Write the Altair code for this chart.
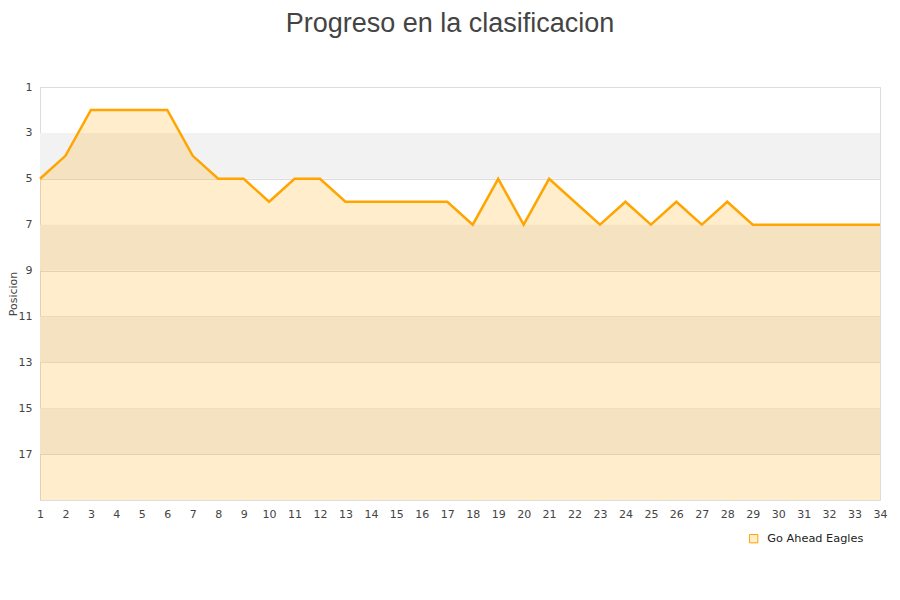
import altair as alt
import pandas as pd

jornadas = list(range(1, 35))
posiciones = [5, 4, 2, 2, 2, 2, 4, 5, 5, 6, 5, 5, 6, 6, 6, 6, 6, 7, 5, 7,
              5, 6, 7, 6, 7, 6, 7, 6, 7, 7, 7, 7, 7, 7]
equipo = "Go Ahead Eagles"
band_start = [3, 7, 11, 15]
band_end = [5, 9, 13, 17]
y_ticks = [1, 3, 5, 7, 9, 11, 13, 15, 17]

df = pd.DataFrame({"jornada": jornadas, "pos": posiciones, "team": [equipo] * len(jornadas)})
bands = pd.DataFrame({"y1": band_start, "y2": band_end})

W, H = 840, 413
xscale = alt.Scale(domain=[1, 34], nice=False, zero=False)
yscale = alt.Scale(domain=[1, 19], reverse=True, nice=False, zero=False)

xaxis = alt.Axis(values=jornadas, title=None, grid=False, ticks=False, domain=False,
                 labelFont="DejaVu Sans", labelFontSize=11, labelColor="#444444",
                 labelPadding=8, labelFlush=False, labelOverlap=False, labelBound=False)
yaxis = alt.Axis(values=y_ticks, title="Posicion", grid=True, gridColor="#dddddd",
                 ticks=False, domain=True, domainColor="#dddddd",
                 labelFont="DejaVu Sans", labelFontSize=11, labelColor="#444444",
                 labelPadding=8, titleFont="DejaVu Sans", titleFontSize=11,
                 titleFontWeight="normal", titleColor="#444444",
                 titleX=-27, titleY=H / 2, titleBaseline="middle", titleAngle=270)

band_layer = alt.Chart(bands).mark_rect(color="#f2f2f2").encode(
    x=alt.value(0), x2=alt.value(W),
    y=alt.Y("y1:Q", scale=yscale, axis=yaxis),
    y2="y2:Q",
)

area = alt.Chart(df).mark_area(color="#FFA500", opacity=0.2).encode(
    x=alt.X("jornada:Q", scale=xscale, axis=xaxis),
    y=alt.Y("pos:Q", scale=yscale, axis=yaxis),
    y2=alt.datum(19),
)

line = alt.Chart(df).mark_line(strokeWidth=2.5).encode(
    x=alt.X("jornada:Q", scale=xscale, axis=xaxis),
    y=alt.Y("pos:Q", scale=yscale, axis=yaxis),
    color=alt.Color("team:N", scale=alt.Scale(range=["#FFA500"]),
                    legend=alt.Legend(title=None, orient="none", legendX=708, legendY=446,
                                      symbolType="square", symbolFillColor="#FFEDCC",
                                      symbolStrokeColor="#C9A062", symbolStrokeWidth=1,
                                      symbolSize=70, labelFont="DejaVu Sans",
                                      labelFontSize=11.3, labelColor="#222222", labelOffset=8)),
)

chart = alt.layer(band_layer, area, line).properties(
    width=W, height=H,
    title=alt.TitleParams("Progreso en la clasificacion", font="Liberation Sans", fontSize=27,
                          fontWeight="normal", color="#444444", anchor="middle", dx=-10,
                          offset=43),
    autosize=alt.AutoSizeParams(type="none"),
    padding={"left": 32, "top": 79, "right": 12, "bottom": 92},
).configure_view(stroke="#dddddd").configure_axisX(labelOverlap=False)

chart.save("out.html", embed_options={"renderer": "svg", "actions": False})
